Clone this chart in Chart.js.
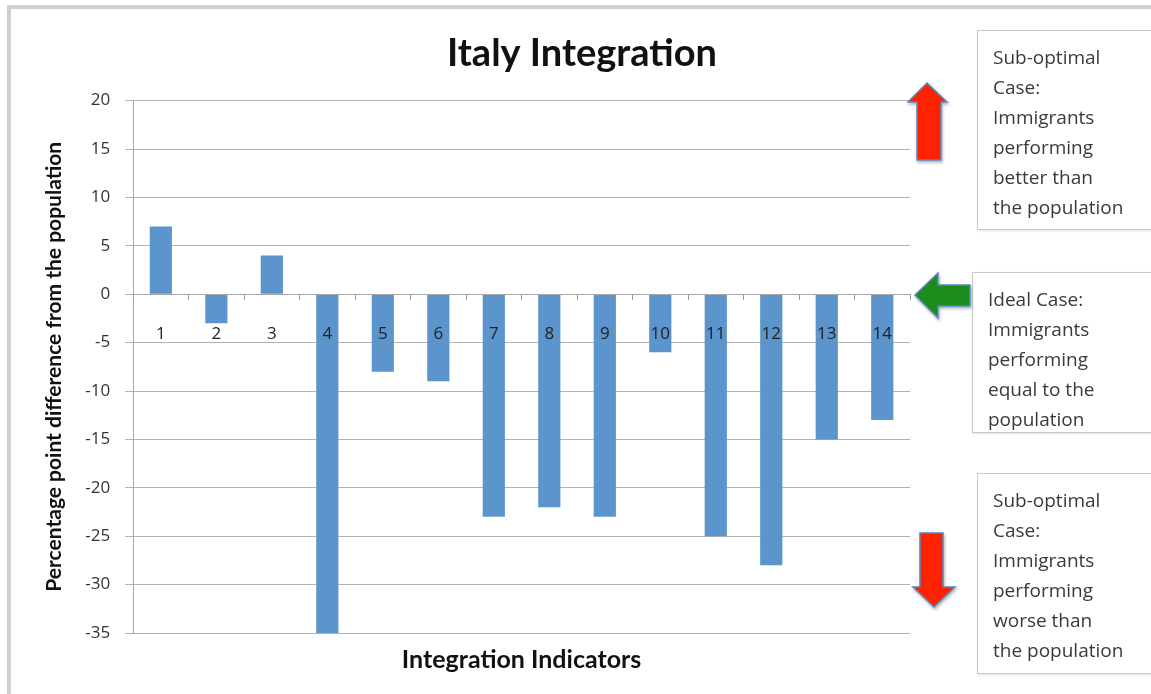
<!DOCTYPE html>
<html>
<head>
<meta charset="utf-8">
<script src="https://cdn.jsdelivr.net/npm/chart.js@4/dist/chart.umd.min.js"></script>
<style>
  html, body { margin: 0; padding: 0; background: #fff; overflow: hidden; width: 1151px; height: 694px; }
  #frame { position: absolute; left: 7px; top: 5px; width: 1200px; height: 800px; border-top: 4px solid #cfcfcf; border-left: 4px solid #cfcfcf; box-sizing: border-box; }
  #wrap { position: absolute; left: 0; top: 0; width: 1151px; height: 694px; }
  .note { position: absolute; background: #fff; border: 1px solid #c9c9c9; box-shadow: 1px 1px 2px rgba(0,0,0,0.12);
          font-family: "Open Sans", sans-serif; font-size: 19px; line-height: 30px; color: #3a3a3a; padding: 11px 0 0 15px; box-sizing: border-box; overflow: hidden; }
  svg { position: absolute; left: 0; top: 0; }
</style>
</head>
<body>
<div id="frame"></div>
<div id="wrap"><canvas id="c" width="1151" height="694"></canvas></div>
<div class="note" style="left:977px; top:30px; width:200px; height:200px;">Sub-optimal<br>Case:<br>Immigrants<br>performing<br>better than<br>the population</div>
<div class="note" style="left:972px; top:272px; width:200px; height:161px;">Ideal Case:<br>Immigrants<br>performing<br>equal to the<br>population</div>
<div class="note" style="left:977px; top:473px; width:200px; height:201px;">Sub-optimal<br>Case:<br>Immigrants<br>performing<br>worse than<br>the population</div>
<svg width="1151" height="694">
  <defs>
    <filter id="sh" x="-30%" y="-30%" width="160%" height="160%">
      <feDropShadow dx="1" dy="2" stdDeviation="1.5" flood-color="#000" flood-opacity="0.3"/>
    </filter>
  </defs>
  <polygon points="927,83 908,102 917,102 917,160 941,160 941,102 947,102" fill="#ff2200" stroke="#5a86c0" stroke-width="1.5" filter="url(#sh)"/>
  <polygon points="915,295 938,273 938,285 970,285 970,306 938,306 938,318" fill="#1c8c1c" stroke="#5a86c0" stroke-width="1.5" filter="url(#sh)"/>
  <polygon points="920,533 943,533 943,587 955,587 934,607 913,587 920,587" fill="#ff2200" stroke="#5a86c0" stroke-width="1.5" filter="url(#sh)"/>
</svg>
<script>
const categories = ['1','2','3','4','5','6','7','8','9','10','11','12','13','14'];
const values = [7, -3, 4, -35, -8, -9, -23, -22, -23, -6, -25, -28, -15, -13];
const yMin = -35, yMax = 20, yStep = 5;

new Chart(document.getElementById('c'), {
  type: 'bar',
  data: {
    labels: categories,
    datasets: [{
      data: values,
      backgroundColor: '#5b95cb',
      borderWidth: 0,
      barPercentage: 0.4,
      categoryPercentage: 1.0
    }]
  },
  options: {
    responsive: false,
    devicePixelRatio: 1,
    animation: false,
    layout: { padding: { left: 38, right: 25, top: 0, bottom: 0 } },
    plugins: {
      legend: { display: false },
      tooltip: { enabled: false },
      title: {
        display: true,
        text: 'Italy Integration',
        color: '#111',
        font: { family: 'Lato', size: 38, weight: 'bold', lineHeight: 1.2 },
        padding: { top: 31, bottom: 24 }
      }
    },
    scales: {
      x: {
        position: { y: 0 },
        grid: { display: true, drawOnChartArea: false, drawTicks: true, tickLength: 5, color: '#9a9a9a', offset: true, z: 1 },
        border: { display: true, color: '#a8a8a8', width: 1, z: 1 },
        ticks: { color: '#222', font: { family: 'Open Sans', size: 17 }, padding: 25, maxRotation: 0, z: 2 }
      },
      x2: {
        type: 'category',
        position: 'bottom',
        grid: { display: false, drawTicks: false, tickLength: 0 },
        border: { display: false },
        ticks: { display: false },
        title: {
          display: true,
          text: 'Integration Indicators',
          color: '#111',
          font: { family: 'Lato', size: 25, weight: 'bold', lineHeight: 1.2 },
          padding: { top: 12, bottom: 19 }
        }
      },
      y: {
        min: yMin, max: yMax,
        grid: { color: '#b3b3b3', lineWidth: 1, tickLength: 8, drawTicks: true },
        border: { display: true, color: '#a8a8a8', width: 1 },
        ticks: { stepSize: yStep, color: '#333', font: { family: 'Open Sans', size: 17 }, padding: 15 },
        title: {
          display: true,
          text: 'Percentage point difference from the population',
          color: '#111',
          font: { family: 'Lato', size: 21, weight: 'bold', lineHeight: 1.2 },
          padding: { top: 4, bottom: 3 }
        }
      },
      yRight: {
        type: 'linear',
        position: 'right',
        display: true,
        grid: { display: false, drawTicks: false },
        border: { display: false },
        ticks: { display: false },
        afterFit: (s) => { s.width = 216; }
      }
    }
  }
});
</script>
</body>
</html>
